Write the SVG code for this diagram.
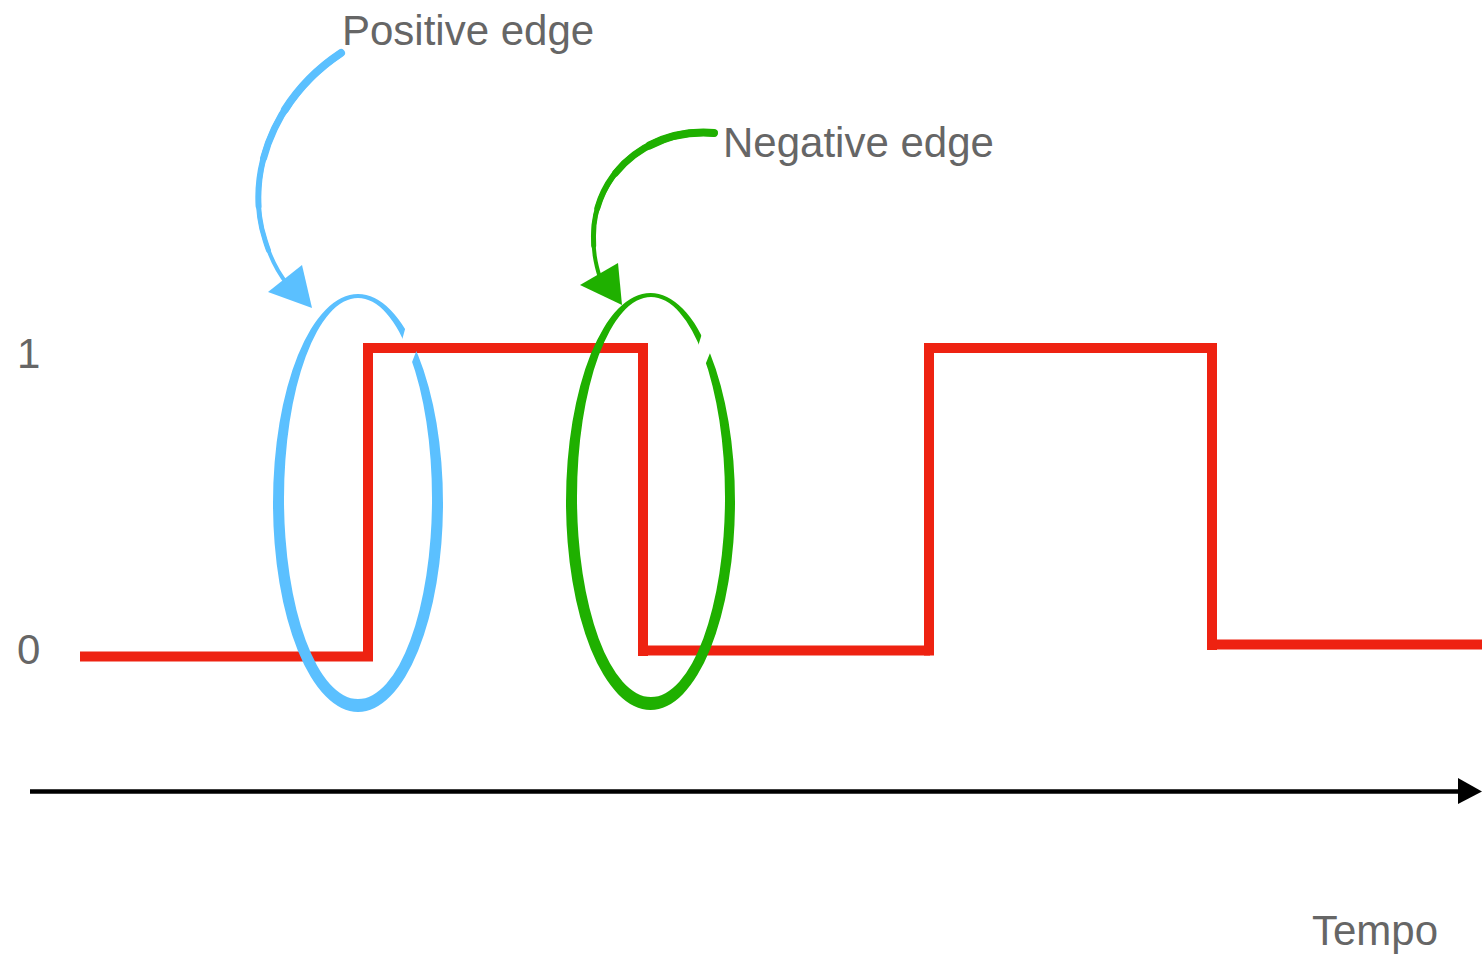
<svg xmlns="http://www.w3.org/2000/svg" width="1482" height="955" viewBox="0 0 1482 955">
<defs>
<style>
.lbl{font-family:"Liberation Sans",Arial,sans-serif;font-size:42px;fill:#666666;}
.sig{stroke:#ee2211;stroke-width:10;fill:none;stroke-linecap:butt;}
.blue{stroke:#5bc0ff;fill:none;stroke-linecap:round;}
.green{stroke:#1fb000;fill:none;stroke-linecap:round;}
</style>
<clipPath id="gapBlue">
<path clip-rule="evenodd" d="M0,0 H1482 V955 H0 Z M358,501 L450,165 L470,213 Z"/>
</clipPath>
<clipPath id="gapGreen">
<path clip-rule="evenodd" d="M0,0 H1482 V955 H0 Z M650.5,500 L749.5,180 L765.5,216 Z"/>
</clipPath>
</defs>
<rect width="1482" height="955" fill="#ffffff"/>

<g id="signal">
<line class="sig" x1="80" y1="656.5" x2="363" y2="656.5"/>
<line class="sig" x1="368" y1="343" x2="368" y2="661.5"/>
<line class="sig" x1="363" y1="348" x2="647" y2="348"/>
<line class="sig" x1="643" y1="343" x2="643" y2="656"/>
<line class="sig" x1="638" y1="650.5" x2="930" y2="650.5"/>
<line class="sig" x1="929" y1="343" x2="929" y2="655.5"/>
<line class="sig" x1="924" y1="348" x2="1217" y2="348"/>
<line class="sig" x1="1212" y1="343" x2="1212" y2="650"/>
<line class="sig" x1="1207" y1="644.5" x2="1482" y2="644.5"/>
</g>

<g id="positive-ellipse" clip-path="url(#gapBlue)">
<path fill="#5bc0ff" fill-rule="evenodd" d="M443,503 A85,209 0 1 1 273,503 A85,209 0 1 1 443,503 Z M432,498.5 A74,200.5 0 1 1 284,498.5 A74,200.5 0 1 1 432,498.5 Z"/>
</g>

<g id="negative-ellipse" clip-path="url(#gapGreen)">
<path fill="#1fb000" fill-rule="evenodd" d="M735,501.5 A84.5,208.5 0 1 1 566,501.5 A84.5,208.5 0 1 1 735,501.5 Z M725,497 A74,200 0 1 1 577,497 A74,200 0 1 1 725,497 Z"/>
</g>

<g id="connectors">
<path class="blue" stroke-width="4" pathLength="100" d="M341,53 C270,100 245,180 265,240 C271,260 279,274 288,285"/>
<path class="blue" stroke-width="5" pathLength="100" stroke-dasharray="85 200" d="M341,53 C270,100 245,180 265,240 C271,260 279,274 288,285"/>
<path class="blue" stroke-width="6" pathLength="100" stroke-dasharray="68 200" d="M341,53 C270,100 245,180 265,240 C271,260 279,274 288,285"/>
<path class="blue" stroke-width="7" pathLength="100" stroke-dasharray="50 200" d="M341,53 C270,100 245,180 265,240 C271,260 279,274 288,285"/>
<path class="blue" stroke-width="8" pathLength="100" stroke-dasharray="30 200" d="M341,53 C270,100 245,180 265,240 C271,260 279,274 288,285"/>
<polygon points="268,292 302,265 312,308" fill="#5bc0ff"/>
<path class="green" stroke-width="4" pathLength="100" d="M714,133 C650,128 600,170 594,225 C592,250 596,265 600,278"/>
<path class="green" stroke-width="5" pathLength="100" stroke-dasharray="85 200" d="M714,133 C650,128 600,170 594,225 C592,250 596,265 600,278"/>
<path class="green" stroke-width="6" pathLength="100" stroke-dasharray="68 200" d="M714,133 C650,128 600,170 594,225 C592,250 596,265 600,278"/>
<path class="green" stroke-width="7" pathLength="100" stroke-dasharray="50 200" d="M714,133 C650,128 600,170 594,225 C592,250 596,265 600,278"/>
<path class="green" stroke-width="8" pathLength="100" stroke-dasharray="30 200" d="M714,133 C650,128 600,170 594,225 C592,250 596,265 600,278"/>
<polygon points="580,285 618,263 622,305" fill="#1fb000"/>
<line x1="30" y1="791.5" x2="1460" y2="791.5" stroke="#000" stroke-width="4.5"/>
<polygon points="1458,778 1482,791.5 1458,804" fill="#000"/>
</g>

<g id="labels">
<text class="lbl" x="342" y="45">Positive edge</text>
<text class="lbl" x="723" y="157">Negative edge</text>
<text class="lbl" x="17" y="368">1</text>
<text class="lbl" x="17" y="664">0</text>
<text class="lbl" x="1312" y="945">Tempo</text>
</g>
</svg>
